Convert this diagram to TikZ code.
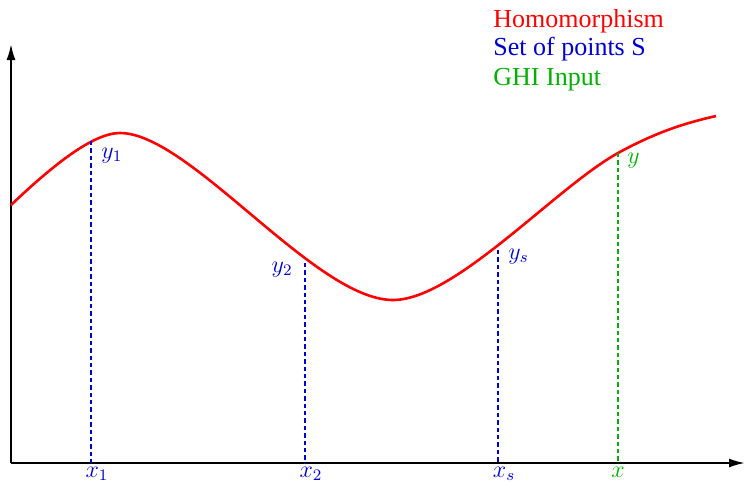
\documentclass[tikz,border=0pt]{standalone}
\usepackage{fontspec}
\setmainfont{Liberation Serif}
\usepackage{amsmath}
\usetikzlibrary{arrows.meta}
\definecolor{ptblue}{RGB}{0,0,205}
\definecolor{ghigreen}{RGB}{0,175,0}
\tikzset{
  axis/.style={line width=1pt,-{Latex[length=8pt,width=4.5pt]}},
  homo/.style={red,line width=1.3pt},
  drop/.style={ptblue,line width=1.15pt,dash pattern=on 2.2pt off 1.5pt},
  ghidrop/.style={drop,ghigreen},
  legend/.style={anchor=base west,inner sep=0pt,font=\fontsize{13}{15}\selectfont},
  lbl/.style={inner sep=0pt,ptblue,font=\large}
}
\begin{document}
\begin{tikzpicture}[x=0.5pt,y=-0.5pt]
\useasboundingbox (0,0) rectangle (744,483);
% axes
\coordinate (O) at (11,463);
\coordinate (xend) at (745,463);
\coordinate (yend) at (11,44);
\draw[axis](O)--(xend);
\draw[axis](O)--(yend);
% homomorphism curve
\coordinate (c0) at (11,205);
\coordinate (top) at (120,133);
\coordinate (low) at (393,300);
\coordinate (q) at (618,153);
\coordinate (c1) at (716,116);
\draw[homo] (c0) .. controls (50,168) and (92,133) .. (top)
  .. controls (190,133) and (315,300) .. (low)
  .. controls (455,300) and (555,188) .. (q)
  .. controls (660,130) and (690,122) .. (c1);
% points on the curve and their feet
\coordinate (p1) at (91,141);
\coordinate (p2) at (305,263);
\coordinate (ps) at (498,250);
\coordinate (f1) at (91,463);
\coordinate (f2) at (305,463);
\coordinate (fs) at (498,463);
\coordinate (fx) at (618,463);
\draw[drop] (p1)--(f1);
\draw[drop] (p2)--(f2);
\draw[drop] (ps)--(fs);
\draw[ghidrop] (q)--(fx);
% labels
\node[lbl,anchor=base west] (y1) at (101,158) {$y_1$};
\node[lbl,anchor=base east] (y2) at (293,272) {$y_2$};
\node[lbl,anchor=base west] (ys) at (508,259) {$y_s$};
\node[lbl,anchor=base west,ghigreen] (yg) at (627,163) {$y$};
\node[lbl,anchor=base] (x1) at (97,477) {$x_1$};
\node[lbl,anchor=base] (x2) at (311,477) {$x_2$};
\node[lbl,anchor=base] (xs) at (504,477) {$x_s$};
\node[lbl,anchor=base,ghigreen] (xg) at (618,477) {$x$};
% legend
\node[legend,red] (lhomo) at (493,27) {Homomorphism};
\node[legend,ptblue] (lset) at (493,55) {Set of points S};
\node[legend,ghigreen] (lghi) at (493,85) {GHI Input};
\end{tikzpicture}
\end{document}
